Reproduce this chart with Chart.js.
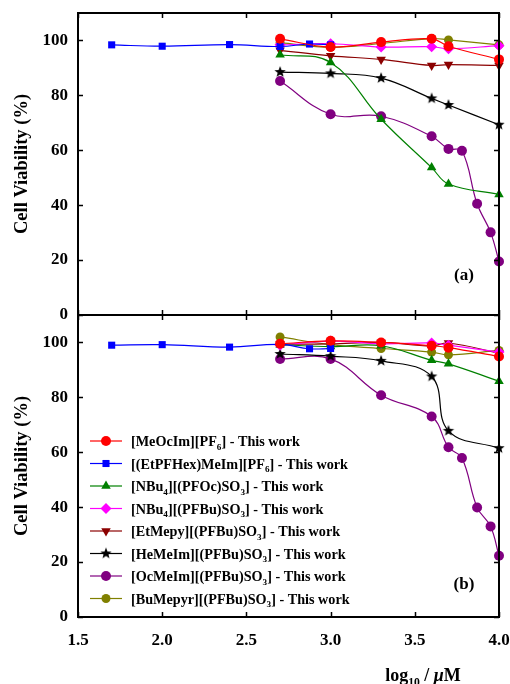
<!DOCTYPE html>
<html>
<head>
<meta charset="utf-8">
<script src="https://cdn.jsdelivr.net/npm/chart.js@4.4.0/dist/chart.umd.min.js"></script>
<style>
  html, body { margin: 0; padding: 0; background: #fff; }
  #wrap { position: relative; width: 510px; height: 684px; }
  canvas { position: absolute; left: 0; top: 0; }
</style>
</head>
<body>
<div id="wrap">
  <canvas id="chartA" width="510" height="330"></canvas>
  <canvas id="chartB" width="510" height="684"></canvas>
</div>
<script>
// series names (legend), colours
const seriesNames = [
    '[MeOcIm][PF₆] - This work',
    '[(EtPFHex)MeIm][PF₆] - This work',
    '[NBu₄][(PFOc)SO₃] - This work',
    '[NBu₄][(PFBu)SO₃] - This work',
    '[EtMepy][(PFBu)SO₃] - This work',
    '[HeMeIm][(PFBu)SO₃] - This work',
    '[OcMeIm][(PFBu)SO₃] - This work',
    '[BuMepyr][(PFBu)SO₃] - This work'
];
const seriesColors = ['#ff0000', '#0000ff', '#008000', '#ff00ff', '#8b0000', '#000000', '#800080', '#808000'];

// log10 concentration values
const xCommon = [2.7, 3.0, 3.3, 3.6, 3.7, 4.0];
const xBlue = [1.7, 2.0, 2.4, 2.7, 2.875, 3.0];
const xPurple = [2.7, 3.0, 3.3, 3.6, 3.7, 3.78, 3.87, 3.95, 4.0];
const xTickLabels = ['1.5', '2.0', '2.5', '3.0', '3.5', '4.0'];
const yTickLabels = ['0', '20', '40', '60', '80', '100'];

// panel (a)
const aMeOcImPF6 = [100.6, 97.6, 99.4, 100.6, 97.9, 93.1];
const aEtPFHexMeImPF6 = [98.4, 97.9, 98.5, 97.8, 98.7, 98.4];
const aNBu4PFOcSO3 = [94.8, 92.0, 71.3, 53.7, 47.7, 43.9];
const aNBu4PFBuSO3 = [98.4, 98.8, 97.6, 97.7, 97.0, 98.1];
const aEtMepyPFBuSO3 = [96.4, 94.4, 93.1, 90.9, 91.2, 90.9];
const aHeMeImPFBuSO3 = [88.5, 88.0, 86.3, 78.9, 76.5, 69.3];
const aOcMeImPFBuSO3 = [85.2, 73.1, 72.4, 65.1, 60.5, 59.8, 40.5, 30.1, 19.5];
const aBuMepyrPFBuSO3 = [99.2, 97.5, 98.9, 100.7, 100.2, 98.4];

// panel (b)
const bMeOcImPF6 = [99.5, 100.6, 100.0, 98.8, 98.1, 94.9];
const bEtPFHexMeImPF6 = [99.0, 99.2, 98.3, 99.3, 97.7, 97.8];
const bNBu4PFOcSO3 = [99.2, 98.5, 98.8, 93.5, 92.2, 85.9];
const bNBu4PFBuSO3 = [99.0, 100.5, 99.5, 99.8, 99.0, 96.5];
const bEtMepyPFBuSO3 = [99.4, 99.5, 100.0, 98.7, 99.8, 96.1];
const bHeMeImPFBuSO3 = [95.8, 95.0, 93.3, 87.6, 67.8, 61.5];
const bOcMeImPFBuSO3 = [94.0, 94.0, 80.8, 73.0, 61.8, 57.9, 39.9, 33.0, 22.3];
const bBuMepyrPFBuSO3 = [102.0, 99.2, 97.8, 96.5, 95.5, 97.1];

const seriesX = [xCommon, xBlue, xCommon, xCommon, xCommon, xCommon, xPurple, xCommon];

const SERIF = '"Liberation Serif", "Times New Roman", serif';

// filled five point star for the HeMeIm series
function makeStar(r, color) {
    const c = document.createElement('canvas');
    c.width = c.height = Math.ceil(2 * r + 2);
    const ctx = c.getContext('2d');
    const cx = c.width / 2, cy = c.height / 2;
    ctx.beginPath();
    for (let i = 0; i < 10; i++) {
        const rad = i % 2 === 0 ? r : r * 0.42;
        const ang = -Math.PI / 2 + i * Math.PI / 5;
        ctx.lineTo(cx + rad * Math.cos(ang), cy + rad * Math.sin(ang));
    }
    ctx.closePath();
    ctx.fillStyle = color;
    ctx.fill();
    return c;
}
const starImg = makeStar(6, '#000000');

const markers = [
    { style: 'circle', radius: 5, rotation: 0 },
    { style: 'rect', radius: 5, rotation: 0 },
    { style: 'triangle', radius: 5.5, rotation: 0 },
    { style: 'rectRot', radius: 5.5, rotation: 0 },
    { style: 'triangle', radius: 5.5, rotation: 180 },
    { style: starImg, radius: 6, rotation: 0 },
    { style: 'circle', radius: 5, rotation: 0 },
    { style: 'circle', radius: 4.5, rotation: 0 }
];

function buildDatasets(yArrays) {
    return yArrays.map((ys, i) => ({
        label: seriesNames[i],
        data: ys.map((y, j) => ({ x: seriesX[i][j], y: y })),
        borderColor: seriesColors[i],
        backgroundColor: seriesColors[i],
        borderWidth: 1.2,
        pointStyle: markers[i].style,
        pointRadius: markers[i].radius,
        pointRotation: markers[i].rotation,
        pointBorderWidth: 0,
        tension: 0.4,
        clip: false
    }));
}

// text with subscript digits (unicode subscripts drawn smaller and lower)
const SUBS = '₀₁₂₃₄₅₆₇₈₉';
function splitRuns(text) {
    const runs = [];
    for (const ch of text) {
        const k = SUBS.indexOf(ch);
        const sub = k >= 0;
        const c = sub ? String(k) : ch;
        if (runs.length && runs[runs.length - 1].sub === sub) runs[runs.length - 1].t += c;
        else runs.push({ t: c, sub: sub });
    }
    return runs;
}
function drawRich(ctx, text, x, y, size, italicChars) {
    const runs = splitRuns(text);
    ctx.textBaseline = 'alphabetic';
    ctx.textAlign = 'left';
    let cx = x;
    runs.forEach(r => {
        if (r.sub) {
            ctx.font = 'bold ' + (size * 0.65).toFixed(1) + 'px ' + SERIF;
            ctx.fillText(r.t, cx, y + size * 0.25);
            cx += ctx.measureText(r.t).width;
        } else {
            for (const ch of r.t) {
                const it = italicChars && italicChars.includes(ch);
                ctx.font = (it ? 'italic ' : '') + 'bold ' + size + 'px ' + SERIF;
                ctx.fillText(ch, cx, y);
                cx += ctx.measureText(ch).width;
            }
        }
    });
    return cx - x;
}
function richWidth(ctx, text, size, italicChars) {
    ctx.save();
    ctx.fillStyle = 'rgba(0,0,0,0)';
    const w = drawRich(ctx, text, -1000, -1000, size, italicChars);
    ctx.restore();
    return w;
}

// frame, inward ticks, panel label, legend, axis titles
const decoPlugin = {
    id: 'deco',
    afterDraw(chart, args, opts) {
        const ctx = chart.ctx;
        const a = chart.chartArea;
        const xs = chart.scales.x, ys = chart.scales.y;
        ctx.save();
        ctx.strokeStyle = '#000';
        ctx.lineWidth = 2;
        ctx.strokeRect(a.left, a.top, a.right - a.left, a.bottom - a.top);
        ctx.lineWidth = 1.5;
        const tl = 5;
        ctx.beginPath();
        xs.ticks.forEach(t => {
            const px = Math.round(xs.getPixelForValue(t.value)) + 0.5;
            ctx.moveTo(px, a.bottom); ctx.lineTo(px, a.bottom - tl);
            ctx.moveTo(px, a.top); ctx.lineTo(px, a.top + tl);
        });
        ys.ticks.forEach(t => {
            const py = Math.round(ys.getPixelForValue(t.value)) + 0.5;
            ctx.moveTo(a.left, py); ctx.lineTo(a.left + tl, py);
            ctx.moveTo(a.right, py); ctx.lineTo(a.right - tl, py);
        });
        ctx.stroke();

        ctx.fillStyle = '#000';
        // panel label
        ctx.font = 'bold 17px ' + SERIF;
        ctx.textAlign = 'center';
        ctx.textBaseline = 'middle';
        ctx.fillText(opts.panel, a.right - 35, a.bottom - opts.panelDy);

        // y title
        ctx.save();
        ctx.translate(22, (a.top + a.bottom) / 2);
        ctx.rotate(-Math.PI / 2);
        ctx.font = 'bold 18.5px ' + SERIF;
        ctx.fillText('Cell Viability (%)', 0, 0);
        ctx.restore();

        if (opts.legend) {
            const x0 = a.left + 12, y0 = a.top + 126, dy = 22.5;
            chart.data.datasets.forEach((ds, i) => {
                const y = y0 + i * dy;
                ctx.strokeStyle = ds.borderColor;
                ctx.lineWidth = 1.2;
                ctx.beginPath();
                ctx.moveTo(x0, y); ctx.lineTo(x0 + 32, y);
                ctx.stroke();
                ctx.fillStyle = ds.backgroundColor;
                Chart.helpers.drawPoint(ctx, {
                    pointStyle: ds.pointStyle, radius: ds.pointRadius,
                    rotation: ds.pointRotation, borderWidth: 0
                }, x0 + 16, y);
                ctx.fillStyle = '#000';
                drawRich(ctx, ds.label, x0 + 41, y + 5, 14.2);
            });
        }

        if (opts.xTitle) {
            const txt = 'log₁₀ / μM';
            const w = richWidth(ctx, txt, 18, 'μ');
            ctx.fillStyle = '#000';
            drawRich(ctx, txt, 423 - w / 2, 681, 18, 'μ');
        }
        ctx.restore();
    }
};

function noPad(s) {
    s.paddingLeft = 0; s.paddingRight = 0; s.paddingTop = 0; s.paddingBottom = 0;
}

function makeOptions(showXLabels, deco, padTop, padBottom, xHeight) {
    return {
        responsive: false,
        animation: false,
        layout: { padding: { left: 0, right: 11, top: padTop, bottom: padBottom } },
        plugins: { legend: { display: false }, tooltip: { enabled: false }, deco: deco },
        scales: {
            x: {
                type: 'linear', min: 1.5, max: 4.0,
                grid: { display: false, drawTicks: false },
                border: { display: false },
                ticks: {
                    display: showXLabels, stepSize: 0.5, padding: 13,
                    color: '#000', font: { family: SERIF, size: 17, weight: 'bold' },
                    callback: (v, i) => xTickLabels[i]
                },
                afterFit: s => { s.height = xHeight; noPad(s); }
            },
            y: {
                min: 0, max: 110,
                grid: { display: false, drawTicks: false },
                border: { display: false },
                ticks: {
                    stepSize: 20, padding: 10,
                    color: '#000', font: { family: SERIF, size: 17, weight: 'bold' },
                    callback: (v, i) => yTickLabels[i]
                },
                afterBuildTicks: s => { s.ticks = s.ticks.filter(t => t.value <= 100); },
                afterFit: s => { s.width = 78; noPad(s); }
            }
        }
    };
}

new Chart(document.getElementById('chartA'), {
    type: 'line',
    data: { datasets: buildDatasets([aMeOcImPF6, aEtPFHexMeImPF6, aNBu4PFOcSO3, aNBu4PFBuSO3,
        aEtMepyPFBuSO3, aHeMeImPFBuSO3, aOcMeImPFBuSO3, aBuMepyrPFBuSO3]) },
    options: makeOptions(false, { panel: '(a)', panelDy: 39, legend: false, xTitle: false }, 13, 15, 0),
    plugins: [decoPlugin]
});

new Chart(document.getElementById('chartB'), {
    type: 'line',
    data: { datasets: buildDatasets([bMeOcImPF6, bEtPFHexMeImPF6, bNBu4PFOcSO3, bNBu4PFBuSO3,
        bEtMepyPFBuSO3, bHeMeImPFBuSO3, bOcMeImPFBuSO3, bBuMepyrPFBuSO3]) },
    options: makeOptions(true, { panel: '(b)', panelDy: 32, legend: true, xTitle: true }, 315, 0, 67),
    plugins: [decoPlugin]
});
</script>
</body>
</html>
